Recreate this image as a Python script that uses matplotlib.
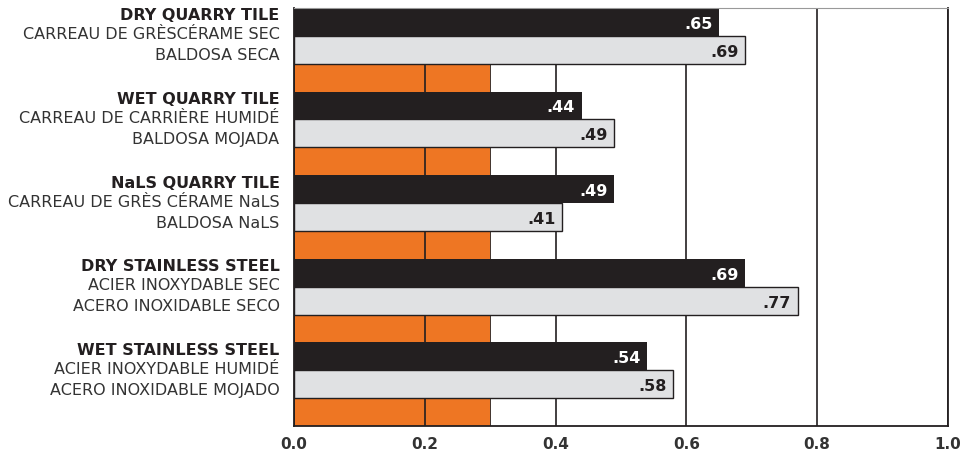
import matplotlib
matplotlib.use("Agg")
import matplotlib.pyplot as plt
import numpy as np

plt.rcParams['font.family'] = ['DejaVu Sans']

titles = ["DRY QUARRY TILE", "WET QUARRY TILE", "NaLS QUARRY TILE",
          "DRY STAINLESS STEEL", "WET STAINLESS STEEL"]
french = ["CARREAU DE GRÈSCÉRAME SEC", "CARREAU DE CARRIÈRE HUMIDÉ",
          "CARREAU DE GRÈS CÉRAME NaLS", "ACIER INOXYDABLE SEC",
          "ACIER INOXYDABLE HUMIDÉ"]
spanish = ["BALDOSA SECA", "BALDOSA MOJADA", "BALDOSA NaLS",
           "ACERO INOXIDABLE SECO", "ACERO INOXIDABLE MOJADO"]
black_vals = [0.65, 0.44, 0.49, 0.69, 0.54]
gray_vals = [0.69, 0.49, 0.41, 0.77, 0.58]
orange_vals = [0.3, 0.3, 0.3, 0.3, 0.3]
black_labels = [".65", ".44", ".49", ".69", ".54"]
gray_labels = [".69", ".49", ".41", ".77", ".58"]
xticks = [0.0, 0.2, 0.4, 0.6, 0.8, 1.0]
xticklabels = ["0.0", "0.2", "0.4", "0.6", "0.8", "1.0"]

BLACK = "#231f20"
GRAY = "#e0e1e3"
ORANGE = "#ee7623"

fig = plt.figure(figsize=(9.63, 4.6), dpi=100)
ax = fig.add_axes([0.3053, 0.0717, 0.6791, 0.9087])

n = len(titles)
base = np.arange(n) * 3
ax.barh(base, black_vals, height=1.0, color=BLACK, linewidth=0, zorder=2)
ax.barh(base + 1, gray_vals, height=1.0, color=GRAY, edgecolor=BLACK, linewidth=1.0, zorder=2)
ax.barh(base + 2, orange_vals, height=1.0, color=ORANGE, edgecolor=BLACK, linewidth=0.6, zorder=0.3)

for i in range(n):
    ax.text(black_vals[i] - 0.01, base[i] + 0.05, black_labels[i], color="white",
            fontsize=11.5, fontweight="bold", ha="right", va="center", zorder=3)
    ax.text(gray_vals[i] - 0.01, base[i] + 1.05, gray_labels[i], color=BLACK,
            fontsize=11.5, fontweight="bold", ha="right", va="center", zorder=3)
    ax.text(-0.022, base[i] - 0.25, titles[i], color=BLACK, fontsize=11.5,
            fontweight="bold", ha="right", va="center", clip_on=False)
    ax.text(-0.022, base[i] + 0.43, french[i], color="#333333", fontsize=11.5,
            ha="right", va="center", clip_on=False)
    ax.text(-0.022, base[i] + 1.18, spanish[i], color="#333333", fontsize=11.5,
            ha="right", va="center", clip_on=False)

ax.set_xlim(0, 1.0)
ax.set_ylim(n * 3 - 0.5, -0.5)
ax.set_xticks(xticks)
ax.set_xticklabels(xticklabels, fontsize=11, fontweight="bold", color="#333333")
ax.tick_params(axis='x', length=0, pad=7)
ax.set_yticks([])
ax.set_axisbelow(True)
ax.grid(axis='x', color=BLACK, linewidth=1.2)
ax.grid(axis='y', visible=False)
for s in ["left", "bottom", "right"]:
    ax.spines[s].set_color(BLACK)
    ax.spines[s].set_linewidth(1.3)
ax.spines["top"].set_color("#999999")
ax.spines["top"].set_linewidth(0.8)

fig.savefig("out.png", dpi=100)
